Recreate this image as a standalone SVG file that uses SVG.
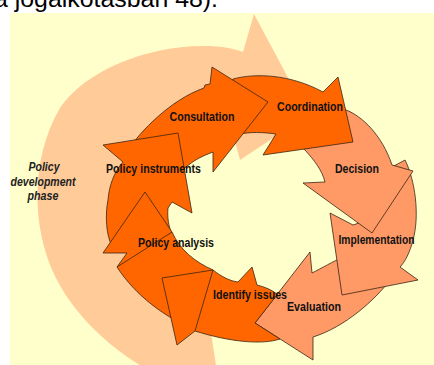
<svg xmlns="http://www.w3.org/2000/svg" width="434" height="365" viewBox="0 0 434 365">
  <defs>
    <style>
      .dark{fill:#FF6600;stroke:#3b2414;stroke-width:0.8;stroke-linejoin:miter}
      .pale{fill:#FF9966;stroke:#3b2414;stroke-width:0.8;stroke-linejoin:miter}
      .edge{fill:none;stroke:#3b2414;stroke-width:0.8}
      .lbl{font-family:"Liberation Sans",Arial,sans-serif;font-size:13px;font-weight:bold;fill:#111;text-anchor:middle}
      .phase{font-family:"Liberation Sans",Arial,sans-serif;font-size:12px;font-weight:bold;font-style:italic;fill:#222;text-anchor:middle}
    </style>
    <clipPath id="panel-clip">
      <rect x="10" y="13" width="424" height="352"/>
    </clipPath>
  </defs>

  <!-- page -->
  <rect width="434" height="365" fill="#ffffff"/>
  <text x="-6" y="6.5" font-family="Liberation Sans, Arial, sans-serif" font-size="23" fill="#000" textLength="224" lengthAdjust="spacingAndGlyphs">a jogalkotásban 48).</text>

  <!-- panel -->
  <rect x="10" y="13" width="424" height="352" fill="#FFFFCC"/>

  <!-- wide outer band: policy development phase -->
  <g id="phase-band" clip-path="url(#panel-clip)">
    <path fill="#FFCC99" d="M152,372 C110,350 60,305 45,250 C32,205 35,150 60,108 C85,70 150,45 205,46 C220,46 232,48 243,52 L254,14 L308,115 L240,160 L232,130 C200,112 150,130 138,175 C130,215 135,265 165,305 C180,322 198,330 211,333 L217,372 Z"/>
    <text class="phase" x="44" y="171" textLength="31" lengthAdjust="spacingAndGlyphs">Policy</text>
    <text class="phase" x="43" y="186" textLength="65" lengthAdjust="spacingAndGlyphs">development</text>
    <text class="phase" x="43" y="200" textLength="31" lengthAdjust="spacingAndGlyphs">phase</text>
  </g>

  <!-- cycle of stages, drawn so each head overlaps the next tail -->
  <g id="cycle">
    <g id="evaluation">
      <path class="pale" d="M390,280 C375,300 345,327 313,337 L313,360 L255,323 L310,252 L312,273 C322,268 332,262 345,256 Z"/>
      <text class="lbl" x="314" y="310.5" textLength="54" lengthAdjust="spacingAndGlyphs">Evaluation</text>
    </g>

    <g id="implementation">
      <path class="pale" d="M392,167 L405,160 C415,180 420,215 413,240 C410,252 405,262 400,267 L418,280 L342,295 L330,213 L353,225 L362,222 L392,175 Z"/>
      <text class="lbl" x="376.5" y="244" textLength="76" lengthAdjust="spacingAndGlyphs">Implementation</text>
    </g>

    <g id="decision">
      <path class="pale" d="M300,146 L340,108 L346,110 C362,116 382,135 392,165 L413,171 L372,233 L303,183 L325,182 C322,170 314,160 305,150 Z"/>
      <text class="lbl" x="357" y="172.5" textLength="44" lengthAdjust="spacingAndGlyphs">Decision</text>
    </g>

    <g id="coordination">
      <path class="dark" d="M228,88 L233,79 C255,73 290,74 323,92 L338,77 L353,142 L263,155 L276,134 C262,132 250,132 240,134 Z"/>
      <text class="lbl" x="310" y="110.5" textLength="66" lengthAdjust="spacingAndGlyphs">Coordination</text>
    </g>

    <g id="consultation">
      <path class="dark" d="M128,150 C140,132 170,100 204,88 L205,85 L210,84 L212,67 L268,102 L213,172 L213,152 C200,157 188,162 172,182 Z"/>
      <text class="lbl" x="202" y="120.5" textLength="65" lengthAdjust="spacingAndGlyphs">Consultation</text>
    </g>

    <g id="policy-instruments">
      <path class="dark" d="M112,246 C106,235 105,215 108,200 C109,186 114,172 123,162 L103,145 L178,133 L192,213 L172,202 L168,208 C167,218 169,226 171,232 L165,234 Z"/>
      <text class="lbl" x="153.5" y="172.5" textLength="95" lengthAdjust="spacingAndGlyphs">Policy instruments</text>
    </g>

    <g id="policy-analysis">
      <path class="dark" d="M145,192 L103,253 L127,253 L117,267 C135,295 165,318 198,331 L213,270 C195,262 180,250 172,232 Z"/>
      <path class="edge" d="M117,267 L172,232"/>
      <text class="lbl" x="176" y="246.5" textLength="76" lengthAdjust="spacingAndGlyphs">Policy analysis</text>
    </g>

    <g id="identify-issues">
      <path class="dark" d="M195,331 L177,345 L162,278 L213,270 C222,277 230,281 238,282 L252,267 L257,285 C265,287 272,290 277.4,294.4 L255,323 L280,339 C262,345 230,342 195,331 Z"/>
      <path class="edge" d="M195,331 L213,270"/>
      <text class="lbl" x="250" y="299" textLength="74" lengthAdjust="spacingAndGlyphs">Identify issues</text>
    </g>
  </g>
</svg>
